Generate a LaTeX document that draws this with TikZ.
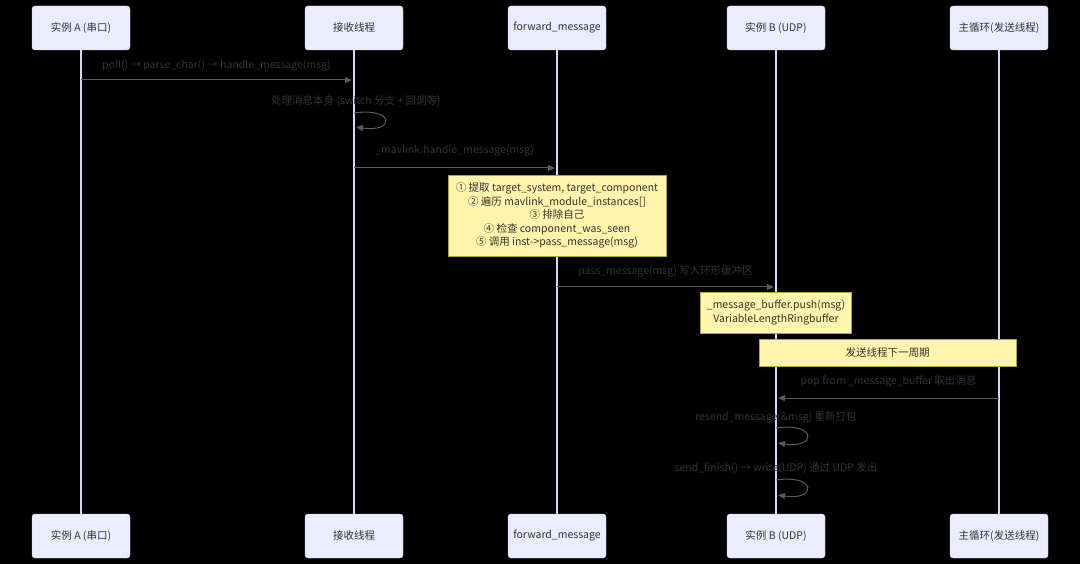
\documentclass[tikz,border=0pt]{standalone}
\usepackage{fontspec}
\setmainfont{Noto Sans CJK SC}
\usepackage{tikz}
\usetikzlibrary{arrows.meta,positioning}
\definecolor{actfill}{HTML}{ECECFF}
\definecolor{actline}{HTML}{DCD4F2}
\definecolor{notefill}{HTML}{FFF5AD}
\definecolor{noteline}{HTML}{AAAA33}
\definecolor{msgtext}{HTML}{333333}
\definecolor{msgline}{HTML}{5A5A5A}
\tikzset{
  actor/.style={ draw=actline, fill=actfill, rounded corners=3pt, minimum width=98pt, minimum height=44pt, font=\fontsize{10.5}{12}\selectfont, text=msgtext }
}
\tikzset{
  lifeline/.style={ draw=actline, line width=1.3pt }
}
\tikzset{
  msg/.style={ draw=msgline, line width=1pt, -{Triangle[length=7pt,width=6pt]} }
}
\tikzset{
  msglabel/.style={ text=msgtext, font=\fontsize{10.5}{12}\selectfont, inner sep=0pt }
}
\tikzset{
  notebox/.style={ draw=noteline, fill=notefill, align=center, text=msgtext, font=\fontsize{10.5}{13.5}\selectfont, inner sep=0pt }
}

\begin{document}
\begin{tikzpicture}[x=1pt, y=-1pt]

      % background, picture frame
      \fill[black] (0,0) rectangle (1080,564);
      \useasboundingbox (0,0) rectangle (1080,564);

      % actors, top and bottom
      \node[actor] (ta) at (81, 28) {实例 A (串口)};
      \node[actor] (tr) at (354, 28) {接收线程};
      \node[actor] (tf) at (557, 28) {forward\_message};
      \node[actor] (tb) at (776, 28) {实例 B (UDP)};
      \node[actor] (tm) at (999, 28) {主循环(发送线程)};
      \node[actor] (ba) at (81, 536) {实例 A (串口)};
      \node[actor] (br) at (354, 536) {接收线程};
      \node[actor] (bf) at (557, 536) {forward\_message};
      \node[actor] (bb) at (776, 536) {实例 B (UDP)};
      \node[actor] (bm) at (999, 536) {主循环(发送线程)};

      \draw[lifeline] (ta) -- (ba);
      \draw[lifeline] (tr) -- (br);
      \draw[lifeline] (tf) -- (bf);
      \draw[lifeline] (tb) -- (bb);
      \draw[lifeline] (tm) -- (bm);

      % notes
      \node[notebox, minimum width=218pt, minimum height=81pt] (n1) at (557, 215.5)
        {① 提取 target\_system, target\_component\\
         ② 遍历 mavlink\_module\_instances[]\\
         ③ 排除自己\\
         ④ 检查 component\_was\_seen\\
         ⑤ 调用 inst->pass\_message(msg)};
      \node[notebox, minimum width=151pt, minimum height=41pt] (n2) at (776, 312.5)
        {\_message\_buffer.push(msg)\\ VariableLengthRingbuffer};
      \node[notebox, minimum width=257pt, minimum height=27pt] (n3) at (887.5, 352.5)
        {发送线程下一周期};

      % message end points
      \coordinate (a1) at (81, 80);
      \coordinate (r1) at (352, 80);
      \coordinate (r2) at (354, 113);
      \coordinate (r3) at (356, 127);
      \coordinate (r4) at (354, 168);
      \coordinate (f1) at (555, 168);
      \coordinate (f2) at (557, 287);
      \coordinate (b1) at (774, 287);
      \coordinate (m1) at (999, 398);
      \coordinate (b2) at (778, 398);
      \coordinate (b3) at (776, 428);
      \coordinate (b4) at (778, 443);
      \coordinate (b5) at (776, 480);
      \coordinate (b6) at (778, 495);

      % messages
      \draw[msg] (a1) -- node[msglabel, above=8pt] {poll() → parse\_char() → handle\_message(msg)} (r1);
      \draw[msg] (r2) .. controls (395, 107) and (395, 133) .. (r3);
      \node[msglabel] (l2) at (356, 101) {处理消息本身 (switch 分支 + 回调等)};
      \draw[msg] (r4) -- node[msglabel, above=11pt] {\_mavlink.handle\_message(msg)} (f1);
      \draw[msg] (f2) -- node[msglabel, above=9pt] {pass\_message(msg) 写入环形缓冲区} (b1);
      \draw[msg] (m1) -- node[msglabel, above=10pt] {pop from \_message\_buffer 取出消息} (b2);
      \draw[msg] (b3) .. controls (817, 422) and (817, 449) .. (b4);
      \node[msglabel] (l9) at (776, 417) {resend\_message(\&msg) 重新打包};
      \draw[msg] (b5) .. controls (817, 474) and (817, 501) .. (b6);
      \node[msglabel] (l10) at (776, 468) {send\_finish() → write(UDP) 通过 UDP 发出};

    \end{tikzpicture}
\end{document}
